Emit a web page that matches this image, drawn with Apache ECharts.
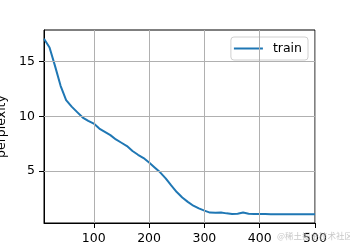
<!DOCTYPE html>
<html>
<head>
<meta charset="utf-8">
<script src="https://cdn.jsdelivr.net/npm/echarts@6/dist/echarts.min.js"></script>
<style>html,body{margin:0;padding:0;background:#fff}#c{width:350px;height:250px}</style>
</head>
<body>
<div id="c"></div>
<script>
const epochs = [10,20,30,40,50,60,70,80,90,100,110,120,130,140,150,160,170,180,190,200,210,220,230,240,250,260,270,280,290,300,310,320,330,340,350,360,370,380,390,400,410,420,430,440,450,460,470,480,490,500];
const train = [17.1,16.3,14.6,12.8,11.5,10.9,10.4,9.9,9.6,9.35,8.9,8.6,8.3,7.9,7.6,7.3,6.85,6.5,6.2,5.8,5.35,4.9,4.35,3.7,3.1,2.6,2.2,1.85,1.6,1.4,1.22,1.2,1.22,1.15,1.1,1.12,1.22,1.12,1.1,1.1,1.1,1.08,1.08,1.08,1.07,1.07,1.07,1.07,1.08,1.07];
const xTicks = [100,200,300,400,500];
const yTicks = [5,10,15];
const font = 'DejaVu Sans';
const chart = echarts.init(document.getElementById('c'), null, {renderer:'canvas'});
chart.setOption({
  animation:false,
  backgroundColor:'#fff',
  grid:{left:44,right:35,top:30,bottom:27,containLabel:false,outerBoundsMode:'none',show:true,borderColor:'#000',borderWidth:1,backgroundColor:'transparent'},
  legend:{
    data:['train'], right:42, top:37,
    icon:'rect', itemWidth:29, itemHeight:2, itemGap:8,
    padding:[5,6,5,3],
    borderColor:'#d0d0d0', borderWidth:1, borderRadius:3, backgroundColor:'rgba(255,255,255,0.8)',
    textStyle:{fontFamily:font,fontSize:12.5,color:'#000',padding:[0,0,0,5]}
  },
  xAxis:{
    type:'value', min:10, max:500,
    axisLine:{show:true,lineStyle:{color:'#000',width:1}},
    axisTick:{show:true,length:5,lineStyle:{color:'#000'},customValues:xTicks},
    axisLabel:{fontFamily:font,fontSize:12.5,color:'#000',margin:9,customValues:xTicks},
    splitLine:{show:false}
  },
  yAxis:{
    type:'value', min:0.27, max:17.9,
    name:'perplexity', nameLocation:'middle', nameGap:32, nameRotate:90,
    nameTextStyle:{fontFamily:font,fontSize:12.5,color:'#000'},
    axisLine:{show:true,lineStyle:{color:'#000',width:1}},
    axisTick:{show:true,length:5,lineStyle:{color:'#000'},customValues:yTicks},
    axisLabel:{fontFamily:font,fontSize:12.5,color:'#000',margin:9,customValues:yTicks},
    splitLine:{show:false}
  },
  series:[
    {
      name:'train', type:'line', data:epochs.map((e,i)=>[e,train[i]]),
      showSymbol:false, symbol:'none', smooth:false,
      lineStyle:{color:'#1f77b4',width:2}, itemStyle:{color:'#1f77b4'}, z:3,
      markLine:{
        silent:true, symbol:'none', label:{show:false}, animation:false,
        lineStyle:{color:'#b0b0b0',width:1,type:'solid'},
        data:[...xTicks.map(v=>({xAxis:v})), ...yTicks.map(v=>({yAxis:v}))]
      }
    }
  ],
  graphic:[{type:'text',left:277,top:232,z:100,style:{text:'@稀土掘金技术社区',fontSize:8.5,fontFamily:'Noto Sans CJK SC',fill:'rgba(185,185,185,0.8)'}}]
});
</script>
</body>
</html>
